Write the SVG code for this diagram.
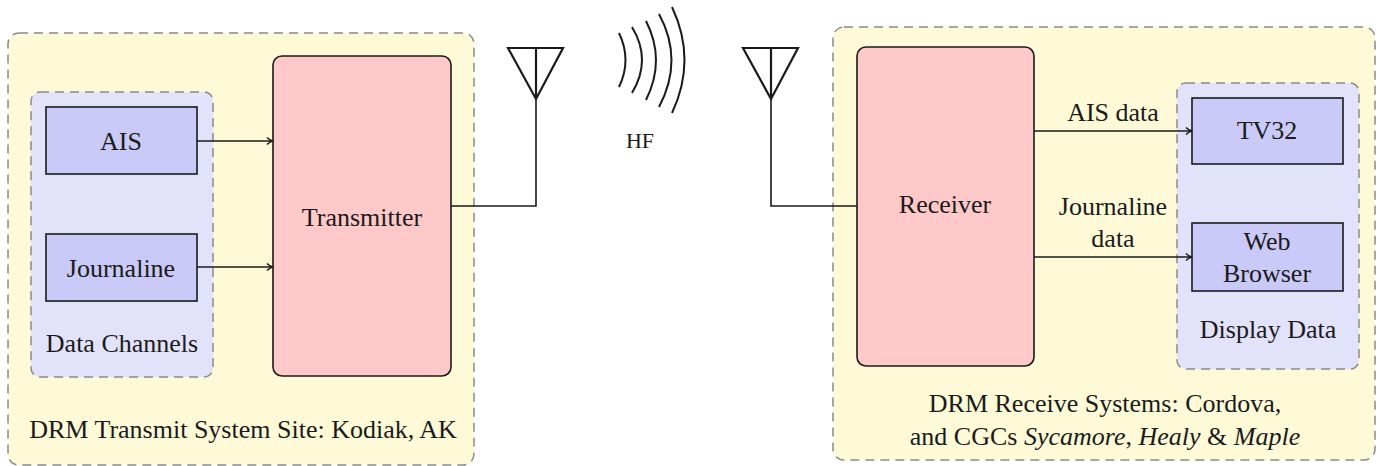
<svg xmlns="http://www.w3.org/2000/svg" width="1382" height="466" viewBox="0 0 1382 466">
<style>
.site{fill:#fefad8;stroke:#8a8a8a;stroke-width:1.5;stroke-dasharray:9 6}
.grp{fill:#e2e2fa;stroke:#8a8a8a;stroke-width:1.5;stroke-dasharray:9 6}
.blk{fill:#ffc9c9;stroke:#1a1a1a;stroke-width:1.6}
.dat{fill:#cacaf8;stroke:#1a1a1a;stroke-width:1.6}
text{font-family:'Liberation Serif','Times New Roman',Times,'DejaVu Serif',serif;font-size:26px;fill:#1a1a1a;text-anchor:middle}
.ln{fill:none;stroke:#1a1a1a;stroke-width:1.6}
.ant{fill:none;stroke:#1a1a1a;stroke-width:2.2;stroke-linejoin:miter}
.wv{fill:none;stroke:#1a1a1a;stroke-width:2}
</style>
<defs>
<marker id="ah" markerWidth="10" markerHeight="10" refX="8" refY="5" orient="auto" markerUnits="userSpaceOnUse">
<path d="M2,1.5 Q5,4.5 8,5 Q5,5.5 2,8.5" fill="none" stroke="#1a1a1a" stroke-width="1.5"/>
</marker>
</defs>
<g id="tx-site">
<rect class="site" x="8" y="33" width="466" height="432" rx="11"/>
<text x="243" y="438">DRM Transmit System Site: Kodiak, AK</text>
</g>
<g id="rx-site">
<rect class="site" x="833" y="27" width="542" height="433" rx="11"/>
<text x="1105" y="412">DRM Receive Systems:  Cordova,</text>
<text x="1105" y="445">and CGCs <tspan font-style="italic">Sycamore</tspan>, <tspan font-style="italic">Healy</tspan> &amp; <tspan font-style="italic">Maple</tspan></text>
</g>
<g id="data-channels">
<rect class="grp" x="31" y="92" width="182" height="285" rx="9"/>
<text x="122" y="352">Data Channels</text>
</g>
<g id="ais">
<rect class="dat" x="46" y="107" width="151" height="67"/>
<text x="121" y="150">AIS</text>
</g>
<g id="journaline">
<rect class="dat" x="46" y="234" width="151" height="67"/>
<text x="121" y="277">Journaline</text>
</g>
<g id="transmitter">
<rect class="blk" x="273" y="56" width="178" height="320" rx="9"/>
<text x="362" y="226">Transmitter</text>
</g>
<g id="tx-antenna">
<path class="ant" d="M508,48 L563,48 L536,99 Z M536,48 L536,99"/>
</g>
<g id="hf">
<path class="wv" d="M619,33 Q632,60 619,87"/>
<path class="wv" d="M632,27 Q652,60 632,93"/>
<path class="wv" d="M646,21 Q666,60 646,100"/>
<path class="wv" d="M659,14 Q684,60 659,107"/>
<path class="wv" d="M672,7 Q697,60 672,113"/>
<text x="640" y="148" style="font-size:22px">HF</text>
</g>
<g id="rx-antenna">
<path class="ant" d="M743,48 L798,48 L771,99 Z M771,48 L771,99"/>
</g>
<g id="receiver">
<rect class="blk" x="857" y="47" width="177" height="319" rx="9"/>
<text x="945" y="213">Receiver</text>
</g>
<g id="display-data">
<rect class="grp" x="1177" y="83" width="182" height="286" rx="9"/>
<text x="1268" y="338">Display Data</text>
</g>
<g id="tv32">
<rect class="dat" x="1192" y="98" width="151" height="66"/>
<text x="1267" y="139">TV32</text>
</g>
<g id="web-browser">
<rect class="dat" x="1192" y="223" width="151" height="68"/>
<text x="1267" y="250">Web</text>
<text x="1267" y="282">Browser</text>
</g>
<g id="connectors">
<path class="ln" d="M197,141 L273,141" marker-end="url(#ah)"/>
<path class="ln" d="M197,267 L273,267" marker-end="url(#ah)"/>
<path class="ln" d="M451,206 L536,206 L536,99"/>
<path class="ln" d="M771,99 L771,206 L857,206"/>
<path class="ln" d="M1034,131 L1192,131" marker-end="url(#ah)"/>
<path class="ln" d="M1034,257 L1192,257" marker-end="url(#ah)"/>
<text x="1113" y="121">AIS data</text>
<text x="1113" y="215">Journaline</text>
<text x="1113" y="247">data</text>
</g>
</svg>
